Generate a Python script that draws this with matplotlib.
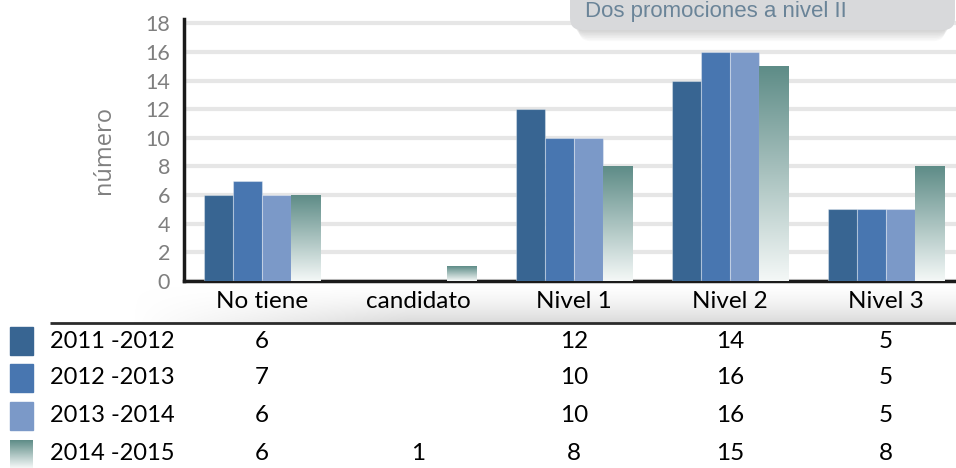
import numpy as np
import matplotlib
matplotlib.use("Agg")
import matplotlib.pyplot as plt
from matplotlib.patches import FancyBboxPatch, Rectangle
from matplotlib.transforms import blended_transform_factory
from matplotlib.colors import LinearSegmentedColormap

# data
categories = ["No tiene", "candidato", "Nivel 1", "Nivel 2", "Nivel 3"]
series_names = ["2011 -2012", "2012 -2013", "2013 -2014", "2014 -2015"]
s2011 = [6, None, 12, 14, 5]
s2012 = [7, None, 10, 16, 5]
s2013 = [6, None, 10, 16, 5]
s2014 = [6, 1, 8, 15, 8]
series = [s2011, s2012, s2013, s2014]
yticks = [0, 2, 4, 6, 8, 10, 12, 14, 16, 18]
title_text = "Dos promociones a nivel II"

colors = ["#386592", "#4876b0", "#7b99c8", None]
teal_top = "#5e8c87"
teal_grad = LinearSegmentedColormap.from_list("tealgrad", ["#f4f8f7", "#a9c2bf", teal_top])

W, H = 956, 468
fig = plt.figure(figsize=(W / 100, H / 100), dpi=100)
FONT = ["Lato", "DejaVu Sans"]

def fx(px):
    return px / W

def fy(py):
    return 1 - py / H

# main plot axes (extends past right border like the original crop)
ax = fig.add_axes([fx(184), fy(281), 780 / W, 262 / H])

bw = 0.186
x = np.arange(len(categories))
for i, s in enumerate(series):
    vals = np.array([np.nan if v is None else v for v in s], dtype=float)
    xs = x + (i - 1.5) * bw
    if colors[i] is not None:
        ax.bar(xs, vals, width=bw, color=colors[i], edgecolor=(1, 1, 1, 0.35),
               linewidth=0.8, zorder=3)
    else:
        grad = np.linspace(0, 1, 256).reshape(-1, 1)
        for xc, v in zip(xs, vals):
            if np.isnan(v):
                continue
            ax.imshow(grad, extent=[xc - bw / 2, xc + bw / 2, 0, v], origin="lower",
                      cmap=teal_grad, aspect="auto", zorder=3)
ax.set_xlim(-0.5, len(categories) - 0.5)
ax.set_ylim(0, 18.3)

ax.set_yticks(yticks)
ax.set_yticklabels([str(t) for t in yticks], color="#7f7f7f", fontsize=15.5, family=FONT)
ax.tick_params(axis="y", length=0, pad=10)
ax.set_xticks([])
ax.yaxis.grid(True, color="#e6e6e6", linewidth=3, zorder=0)
ax.set_axisbelow(True)
for side in ["top", "right"]:
    ax.spines[side].set_visible(False)
ax.spines["left"].set_linewidth(2.5)
ax.spines["bottom"].set_linewidth(2.5)
ax.spines["left"].set_color("#1a1a1a")
ax.spines["bottom"].set_color("#1a1a1a")

fig.text(fx(104), fy(150), "número", rotation=90, ha="center", va="center",
         color="#808080", fontsize=17, family=["Open Sans", "DejaVu Sans"])

# background layer for the table header shading
bg = fig.add_axes([0, 0, 1, 1], zorder=-1)
bg.set_xlim(0, W)
bg.set_ylim(H, 0)
bg.axis("off")
yy = np.linspace(0, 1, 60).reshape(-1, 1)
xx = np.clip(np.linspace(-0.3, 3.0, 400), 0, 1).reshape(1, -1)
alpha = (yy ** 1.5) * xx
shade = np.zeros((60, 400, 4))
shade[..., :3] = 0.84
shade[..., 3] = alpha * 0.9
bg.imshow(shade, extent=[50, W, 323, 283], aspect="auto", interpolation="bilinear")

# overlay layer: table and title box
ov = fig.add_axes([0, 0, 1, 1], zorder=5)
ov.set_xlim(0, W)
ov.set_ylim(H, 0)
ov.axis("off")
ov.patch.set_alpha(0)

ov.plot([50, W], [323, 323], color="#2b2b2b", linewidth=2, solid_capstyle="butt")

trans = blended_transform_factory(ax.transData, fig.transFigure)
for xc, cat in zip(x, categories):
    ax.text(xc, fy(302), cat, transform=trans, ha="center", va="center",
            fontsize=17.5, family=FONT, color="black")

row_y = [341, 378, 416, 454]
for i, (name, s) in enumerate(zip(series_names, series)):
    ry = row_y[i]
    if colors[i] is not None:
        ov.add_patch(Rectangle((10, ry - 14), 23, 28, color=colors[i]))
    else:
        grad = np.linspace(0, 1, 128).reshape(-1, 1)
        ov.imshow(grad, extent=[10, 33, ry + 14, ry - 14], cmap=teal_grad,
                  aspect="auto", origin="lower")
    ov.text(50, ry, name, ha="left", va="center", fontsize=17, family=FONT, color="black")
    for xc, v in zip(x, s):
        if v is None:
            continue
        ax.text(xc, fy(ry), str(v), transform=trans, ha="center", va="center",
                fontsize=17.5, family=FONT, color="black")
ov.set_xlim(0, W)
ov.set_ylim(H, 0)

# title callout box with soft shadow
for k in range(8):
    ov.add_patch(FancyBboxPatch((572 + k, -30), 380 - 2 * k, 60 + k * 1.6,
                                boxstyle="round,pad=0,rounding_size=12",
                                facecolor="#000000", alpha=0.025, edgecolor="none"))
ov.add_patch(FancyBboxPatch((570, -30), 385, 60, boxstyle="round,pad=0,rounding_size=12",
                            facecolor="#d8d9db", edgecolor="none"))
ov.text(585, 12, title_text, ha="left", va="center", fontsize=16,
        family="Liberation Sans", color="#6a8498")

fig.savefig("out.png", dpi=100)
